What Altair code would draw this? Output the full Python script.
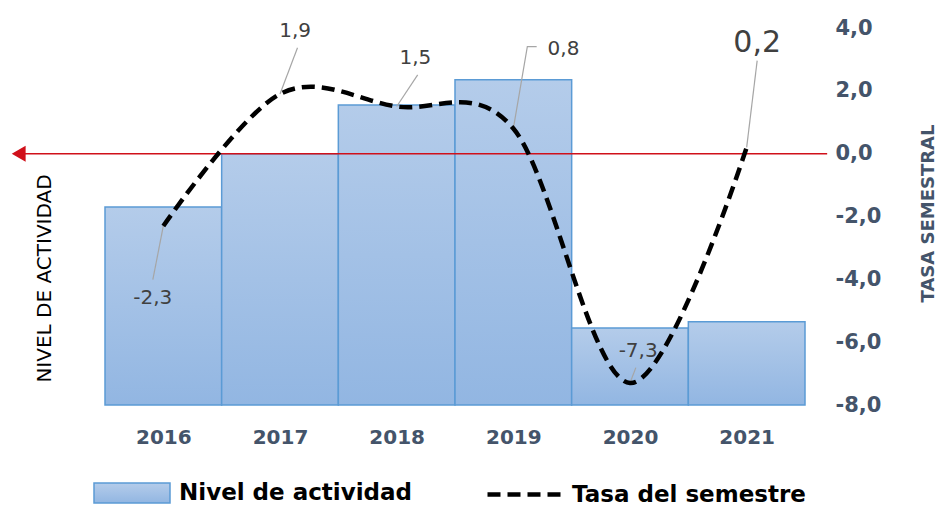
import altair as alt
import pandas as pd

# ---------------- data ----------------
years = [2016, 2017, 2018, 2019, 2020, 2021]
nivel = [6.3, 8.0, 9.55, 10.35, 2.45, 2.65]
tasa = [-2.3, 1.9, 1.5, 0.8, -7.3, 0.2]              # Tasa del semestre (%)
tasa_text = ["-2,3", "1,9", "1,5", "0,8", "-7,3", "0,2"]

# data-label anchor positions (in axis units) and leader-line ends
label_x = [2015.91, 2017.13, 2018.16, 2019.43, 2020.07, 2021.09]
label_y = [-4.58, 3.91, 3.06, 3.34, -6.27, 3.53]
leader_x = [2015.91, 2017.15, 2018.18, 2019.20, 2020.05, 2021.09]
leader_y = [-4.01, 3.37, 2.51, 3.41, -6.81, 2.96]
elbow_year = [2019]
elbow_x = [2019.12]
elbow_y = [3.41]

zero_line_x = [2014.76, 2021.69]
zero_line_y = [0, 0]

year_ticks = years
tasa_ticks = [-8, -6, -4, -2, 0, 2, 4]
TASA_DOMAIN = [-8, 4]
NIVEL_DOMAIN = [0, 12]
X_DOMAIN = [2015.5, 2021.5]

S_BAR = "Nivel de actividad"
S_LINE = "Tasa del semestre"

FONT = "DejaVu Sans"
AX_COLOR = "#44546A"
RED = "#D0101A"

# ---------------- tables ----------------
df = pd.DataFrame({"year": years, "nivel": nivel, "tasa": tasa,
                   "sb": S_BAR, "sl": S_LINE})
lab_df = pd.DataFrame({"year": years, "tx": label_x, "ty": label_y, "t": tasa_text})

rows = []
for i, yr in enumerate(years):
    rows.append({"year": yr, "o": 0, "lx": leader_x[i], "ly": leader_y[i]})
    if yr in elbow_year:
        j = elbow_year.index(yr)
        rows.append({"year": yr, "o": 1, "lx": elbow_x[j], "ly": elbow_y[j]})
    rows.append({"year": yr, "o": 2, "lx": yr, "ly": tasa[i]})
lead_df = pd.DataFrame(rows)
zero_df = pd.DataFrame({"zx": zero_line_x, "zy": zero_line_y})

# ---------------- scales / axes ----------------
xscale = alt.Scale(domain=X_DOMAIN, nice=False, zero=False)
xaxis = alt.Axis(values=year_ticks, format="d", title=None, ticks=False, domain=False,
                 grid=False, labelFont=FONT, labelFontSize=20, labelFontWeight="bold",
                 labelColor=AX_COLOR, labelPadding=22)
yscale = alt.Scale(domain=TASA_DOMAIN, nice=False, zero=False)
yaxis = alt.Axis(orient="right", values=tasa_ticks,
                 labelExpr="replace((datum.value < 0 ? '-' : '') + format(abs(datum.value), '.1f'), '.', ',')",
                 ticks=False, domain=False, grid=False, labelPadding=30,
                 labelFont=FONT, labelFontSize=21, labelFontWeight="bold",
                 labelColor=AX_COLOR, labelAlign="left", labelBaseline="middle",
                 title="TASA SEMESTRAL", titleAngle=270, titleX=123, titleY=185,
                 titleAlign="center", titleBaseline="middle", titleFont=FONT,
                 titleFontSize=18, titleFontWeight="bold", titleColor=AX_COLOR)

gradient = alt.Gradient(gradient="linear",
                        stops=[alt.GradientStop(color="#B4CCEA", offset=0),
                               alt.GradientStop(color="#92B6E2", offset=1)],
                        x1=0, x2=0, y1=0, y2=1)

bars = alt.Chart(df).transform_calculate(
    x0="datum.year - 0.5", x1="datum.year + 0.5"
).mark_bar(fill=gradient, strokeWidth=1.5).encode(
    x=alt.X("x0:Q", scale=xscale, axis=xaxis),
    x2="x1:Q",
    y=alt.Y("nivel:Q", scale=alt.Scale(domain=NIVEL_DOMAIN, nice=False),
            axis=alt.Axis(title="NIVEL DE ACTIVIDAD", labels=False, ticks=False,
                          domain=False, grid=False, titleAngle=270, titleX=-61,
                          titleY=250, titleAlign="center", titleBaseline="middle",
                          titleFont=FONT, titleFontSize=20, titleFontWeight="normal",
                          titleColor="black")),
    y2=alt.datum(0),
    stroke=alt.Stroke("sb:N", scale=alt.Scale(range=["#5B9BD5"]),
                      legend=alt.Legend(title=None, orient="none", legendX=-12, legendY=426,
                                        symbolType="M-1,-0.26H1V0.26H-1Z", symbolSize=5776,
                                        symbolFillColor="#A9C5E9", symbolStrokeWidth=1.5,
                                        labelFont=FONT, labelFontSize=23,
                                        labelFontWeight="bold", labelColor="black",
                                        labelOffset=8, padding=0, labelLimit=400)),
)

zero_line = alt.Chart(zero_df).mark_line(color=RED, strokeWidth=1.5).encode(
    x=alt.X("zx:Q", scale=xscale, axis=xaxis),
    y=alt.Y("zy:Q", scale=yscale, axis=yaxis),
)
arrow = alt.Chart(zero_df).transform_filter(
    f"datum.zx == {zero_line_x[0]}"
).mark_point(shape="triangle-left", filled=True, size=256, color=RED, opacity=1).encode(
    x=alt.X("zx:Q", scale=xscale, axis=xaxis),
    y=alt.Y("zy:Q", scale=yscale, axis=yaxis),
)

leaders = alt.Chart(lead_df).mark_line(color="#A6A6A6", strokeWidth=1.2).encode(
    x=alt.X("lx:Q", scale=xscale, axis=xaxis),
    y=alt.Y("ly:Q", scale=yscale, axis=yaxis),
    detail="year:N",
    order="o:Q",
)

line = alt.Chart(df).mark_line(color="black", strokeWidth=4.5, interpolate="cardinal").encode(
    x=alt.X("year:Q", scale=xscale, axis=xaxis),
    y=alt.Y("tasa:Q", scale=yscale, axis=yaxis),
    strokeDash=alt.StrokeDash("sl:N", scale=alt.Scale(range=[[13, 7]]),
                              legend=alt.Legend(title=None, orient="none", legendX=380,
                                                legendY=424, symbolType="stroke",
                                                symbolSize=6400, symbolStrokeWidth=4.5,
                                                symbolStrokeColor="black",
                                                labelFont=FONT, labelFontSize=23,
                                                labelFontWeight="bold", labelColor="black",
                                                labelOffset=2, padding=0, labelLimit=400)),
)

text = alt.Chart(lab_df).mark_text(font=FONT, color="#404040", baseline="middle",
                                   align="center").encode(
    x=alt.X("tx:Q", scale=xscale, axis=xaxis),
    y=alt.Y("ty:Q", scale=yscale, axis=yaxis),
    text="t:N",
    size=alt.condition("datum.year == 2021", alt.value(30), alt.value(20)),
)

rate_layer = alt.layer(zero_line, arrow, leaders, line, text)

chart = alt.layer(bars, rate_layer).resolve_scale(y="independent").properties(
    width=700, height=377,
    padding={"left": 97, "top": 20, "right": 135, "bottom": 100},
    autosize=alt.AutoSizeParams(type="none"),
).configure_view(strokeWidth=0)

chart.save("out.html", embed_options={"renderer": "svg", "actions": False})
